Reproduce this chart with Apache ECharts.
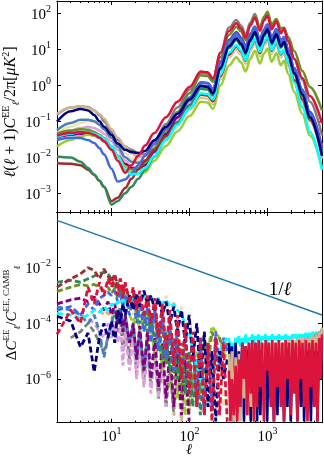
<!DOCTYPE html>
<html>
<head>
<meta charset="utf-8">
<title>EE spectra</title>
<style>
    html, body { margin: 0; padding: 0; background: #fff; }
    #chart { width: 324px; height: 458px; }
</style>
<script src="https://cdn.jsdelivr.net/npm/echarts@6/dist/echarts.min.js"></script>
</head>
<body>
<div id="chart"></div>
<script>
var serif = 'Liberation Serif, DejaVu Serif, serif';

// multipoles of the spectra (top panel)
var ell = [2, 3, 4, 5, 6, 7, 8, 10, 12, 15, 18, 22, 27, 35, 50, 70, 100, 140, 170, 200, 250, 320, 400, 460, 525, 600, 690, 800, 900, 1000, 1130, 1300, 1480, 1630, 1840, 2200, 2800, 3500, 5000];

// l(l+1)C_l^EE/2pi per model
var clGray = [0.15, 0.24, 0.26, 0.25, 0.2, 0.15, 0.1, 0.05, 0.03, 0.02, 0.016, 0.013, 0.012, 0.027, 0.084, 0.24, 0.75, 2.2, 2.1, 1.4, 8, 40, 65, 45, 25, 55, 95, 40, 70, 95, 40, 65, 30, 38, 17, 5.5, 1.4, 0.35, 0.04];
var clTan = [0.16, 0.24, 0.26, 0.24, 0.2, 0.16, 0.12, 0.06, 0.035, 0.02, 0.013, 0.01, 0.011, 0.02, 0.044, 0.094, 0.21, 0.45, 0.43, 0.3, 1.5, 6, 10, 7, 4, 9, 15, 6.5, 12.5, 18, 7.5, 13, 6, 8, 3.5, 1.2, 0.35, 0.1, 0.012];
var clWheat = [0.047, 0.07, 0.09, 0.1, 0.095, 0.08, 0.065, 0.04, 0.025, 0.013, 0.009, 0.008, 0.0085, 0.016, 0.039, 0.089, 0.215, 0.5, 0.47, 0.33, 1.6, 6.5, 11, 7.7, 4.4, 10, 16.5, 7, 14, 20, 8, 14, 6.5, 9, 4, 1.3, 0.4, 0.12, 0.02];
var clPlum = [0.04, 0.055, 0.065, 0.07, 0.065, 0.055, 0.045, 0.028, 0.016, 0.008, 0.0055, 0.005, 0.006, 0.013, 0.038, 0.105, 0.31, 0.85, 0.8, 0.56, 3.3, 13, 22, 15, 9, 20, 33, 14, 27, 40, 16, 28, 13, 17, 7.5, 2.3, 0.55, 0.12, 0.009];
var clSteel = [0.057, 0.09, 0.11, 0.11, 0.1, 0.08, 0.06, 0.035, 0.02, 0.01, 0.0075, 0.007, 0.008, 0.017, 0.048, 0.13, 0.37, 1.0, 0.95, 0.65, 3.5, 14, 24, 17, 10, 21, 36, 16, 30, 43, 18, 31, 14, 19, 8.5, 2.6, 0.65, 0.15, 0.014];
var clPurple = [0.035, 0.042, 0.045, 0.045, 0.04, 0.035, 0.028, 0.018, 0.011, 0.0065, 0.005, 0.0048, 0.006, 0.014, 0.0435, 0.128, 0.405, 1.2, 1.15, 0.78, 4.5, 18, 30, 21, 12, 26, 42, 18, 35, 50, 21, 36, 17, 22, 10, 3, 0.75, 0.18, 0.018];
var clOlive = [0.045, 0.055, 0.06, 0.058, 0.05, 0.042, 0.034, 0.02, 0.011, 0.0055, 0.0045, 0.005, 0.007, 0.017, 0.057, 0.18, 0.6, 1.9, 1.8, 1.25, 6, 25, 42, 31, 18, 45, 80, 38, 80, 110, 50, 70, 38, 40, 22, 9, 2.5, 0.9, 0.2];
var clYellow = [0.02, 0.03, 0.038, 0.042, 0.04, 0.035, 0.028, 0.017, 0.01, 0.0055, 0.004, 0.0036, 0.0038, 0.0078, 0.0206, 0.052, 0.139, 0.35, 0.33, 0.22, 1, 3.5, 6, 4.2, 2.4, 5.4, 9, 4, 7.5, 10.5, 4.5, 7.8, 3.6, 4.8, 2.1, 0.65, 0.16, 0.04, 0.005];
var clBrown = [0.0068, 0.0066, 0.006, 0.0045, 0.0032, 0.0022, 0.0015, 0.0006, 0.00075, 0.0014, 0.0025, 0.0045, 0.008, 0.0156, 0.039, 0.092, 0.23, 0.55, 0.52, 0.36, 1.8, 7, 12, 8.4, 4.8, 11, 18, 7.8, 15, 21.5, 9, 15.5, 7.2, 9.6, 4.2, 1.4, 0.4, 0.11, 0.013];
var clGreen = [0.0105, 0.0098, 0.0075, 0.005, 0.0033, 0.0022, 0.0015, 0.00048, 0.0006, 0.001, 0.0015, 0.0025, 0.0045, 0.0102, 0.031, 0.09, 0.28, 0.8, 0.76, 0.52, 2.7, 11, 18, 12.5, 7.2, 16, 27, 11.7, 22.5, 32, 13.5, 23, 11, 14.5, 6.3, 2, 0.5, 0.12, 0.012];
var clRoyal = [0.03, 0.035, 0.034, 0.03, 0.025, 0.018, 0.012, 0.0048, 0.0021, 0.0024, 0.0035, 0.006, 0.011, 0.023, 0.063, 0.166, 0.46, 1.2, 1.15, 0.8, 4.2, 17, 28, 20, 11, 25, 42, 18, 35, 50, 21, 36, 17, 22, 9.8, 3, 0.75, 0.17, 0.016];
var clCyan = [0.037, 0.045, 0.05, 0.05, 0.045, 0.04, 0.033, 0.02, 0.011, 0.0045, 0.0033, 0.0035, 0.005, 0.0107, 0.03, 0.08, 0.225, 0.6, 0.57, 0.4, 2, 8, 13, 9, 5, 11.5, 19.5, 8.5, 16, 23, 9.5, 16.5, 7.5, 10, 4.2, 1.2, 0.25, 0.05, 0.0045];
var clNavy = [0.098, 0.19, 0.22, 0.2, 0.15, 0.1, 0.07, 0.042, 0.024, 0.016, 0.014, 0.013, 0.015, 0.029, 0.07, 0.16, 0.4, 0.95, 0.9, 0.6, 3, 12, 20, 14, 8, 18, 30, 13, 25, 36, 15, 26, 12, 16, 7, 2.2, 0.55, 0.13, 0.011];
var clCrimson = [0.04, 0.048, 0.05, 0.048, 0.042, 0.035, 0.028, 0.016, 0.008, 0.0037, 0.006, 0.011, 0.021, 0.046, 0.13, 0.35, 0.9, 2.4, 2.3, 1.55, 8, 32, 53, 37, 21, 46, 75, 33, 62, 85, 36, 60, 28, 37, 17, 5.5, 1.6, 0.5, 0.088];

// multipoles of the relative differences (bottom panel)
var ellLow = [2, 3, 4, 5, 6, 7, 8, 9, 10, 11, 12, 13, 14, 15, 17, 19, 21, 23, 26, 29, 32, 36, 40, 45, 50, 56, 63, 70, 79, 88, 99, 110, 124, 138, 155, 173, 194, 217, 243, 272, 305];
var ellHigh = [320, 335, 350, 370, 390, 410, 430, 450, 475, 500, 525, 550, 580, 610, 640, 670, 700, 735, 770, 810, 850, 900, 945, 990, 1040, 1100, 1150, 1210, 1270, 1340, 1400, 1480, 1550, 1630, 1710, 1800, 1890, 1990, 2090, 2200, 2300, 2420, 2550, 2680, 2810, 2950, 3100, 3260, 3420, 3600, 3780, 3970, 4170, 4380, 4600, 4830, 5000];

// |dC/C| per model
var dTan = [null, null, null, null, null, 3e-4, 2e-4, 2.5e-4, 1.5e-4, 3e-4, 1e-4, 2e-4, 5e-5, 1e-4, 1e-5, 5e-5, 3e-6, 2e-5, 8e-7, 1e-5, 5e-7, 8e-6, 3e-7, 5e-6, 1e-7, 3e-6, 5e-8, 1e-6, 3e-8, 1e-6, 5e-8, 3e-6, 1e-7, 5e-6, 3e-7, 1e-5, 1e-6, 2e-5, 3e-6, 3e-5, 1e-5];
var dTanHigh = [8e-6, 5e-8, 1e-5, 3e-8, 6e-6, 1e-7, 8e-6, 3e-8, 5e-6, 2e-7, 5e-6, 5e-8, 3e-6, 1e-7, 5e-6, 3e-8, 1e-5, 1e-6, 2e-5, 5e-6, 2e-5, 3e-6, 2e-5, 5e-6, 2e-5, 5e-6, 2.5e-5, 5e-6, 2e-5, 5e-6, 2.5e-5, 5e-6, 2e-5, 5e-6, 2.5e-5, 8e-6, 2.5e-5, 5e-6, 3e-5, 8e-6, 2.5e-5, 5e-6, 3e-5, 1e-5, 3e-5, 5e-6, 3e-5, 1e-5, 3e-5, 1e-5, 4e-5, 1e-5, 4e-5, 1e-5, 5e-5, 2e-5, 7e-5];
var dWheat = [null, null, null, null, null, null, null, null, 3e-4, 2e-4, 4e-4, 2e-4, 5e-4, 3e-4, 4e-4, 2e-4, 6e-4, 3e-4, 8e-4, 4e-4, 1e-3, 5e-4, 8e-4, 3e-4, 1e-3, 2e-4, 6e-4, 1e-4, 4e-4, 5e-5, 2e-4, 2e-5, 1e-4, 5e-6, 5e-5, 1e-6, 1e-5, 3e-7, 5e-6, 1e-7, 1e-6];
var dGray = [null, 3e-5, 5e-5, 1e-4, 5e-5, 2e-5, 1e-5, 3e-5, 1e-4, 2e-4, 5e-5, 1.5e-4, 1e-5, 1e-4, 5e-6, 5e-5, 1.5e-6, 3e-5, 1e-6, 2e-5, 5e-7, 1e-5, 2e-7, 5e-6, 1e-7, 3e-6, 5e-8, null, null, null, null, null, null, null, null, null, null, null, null, null, null];
var dPlum = [null, null, 2e-4, 1.5e-4, 1e-4, 5e-5, 3e-5, 1e-4, 3e-5, 1e-4, 2e-5, 8e-5, 3e-6, 5e-5, 2e-6, 3e-5, 1e-6, 2e-5, 5e-7, 1e-5, 3e-7, 8e-6, 2e-7, 5e-6, 1e-7, null, null, null, null, null, null, null, null, null, null, null, null, null, null, null, null];
var dSteel = [4e-4, 3e-4, 2e-4, 1e-4, 2e-4, 5e-5, 6e-6, 3e-5, 1e-4, 3e-4, 1e-4, 4e-4, 5e-5, 2e-4, 2e-5, 1e-4, 5e-6, 6e-5, 2e-6, 4e-5, 1e-6, 3e-5, null, null, null, null, null, null, null, null, null, null, null, null, null, null, null, null, null, null, null];
var dYellow = [null, null, null, null, null, null, null, null, null, null, null, null, null, null, 2e-4, 1e-4, 3e-4, 5e-5, 2e-4, 2e-5, 1e-4, 5e-6, 6e-5, 2e-6, 3e-5, 5e-7, 2e-5, 2e-7, 1e-5, 5e-8, 5e-6, 3e-7, 1e-5, 3e-6, 3e-5, 1e-5, 8e-5, 5e-5, 3e-5, 1e-5, 5e-6];
var dOlive = [1.4e-3, 2e-3, 2.5e-3, 2.2e-3, 2.5e-3, 2e-3, 1.5e-3, 2e-3, 1.2e-3, 1.8e-3, 8e-4, 1.5e-3, 5e-4, 1e-3, 3e-4, 8e-4, 2e-4, 6e-4, 1e-4, 3e-4, 5e-5, 2e-4, 1e-5, 1e-4, 3e-6, 6e-5, 1e-6, 3e-5, 3e-7, 2e-5, 1e-7, 1e-6, 5e-6, 3e-7, 2e-5, 3e-6, 5e-5, 2e-5, 3e-5, 1e-5, 2e-5];
var dPurple = [5e-4, 7e-4, 8e-4, 6e-4, 9e-4, 5e-4, 3e-4, 6e-4, 2e-4, 5e-4, 1e-4, 3e-4, 5e-5, 2e-4, 2e-5, 1e-4, 5e-6, 8e-5, 2e-6, 5e-5, 1e-6, 3e-5, 5e-7, 2e-5, 2e-7, 1e-5, 1e-7, 8e-6, 5e-8, 5e-6, 3e-8, null, null, null, null, null, null, null, null, null, null];
var dGreen = [3e-3, 3.5e-3, 3e-3, 4e-3, 5e-3, 6e-3, 7e-3, 6e-3, 4e-3, 2e-3, 3e-3, 1e-3, 2e-3, 6e-4, 1e-3, 3e-4, 6e-4, 1e-4, 3e-4, 5e-5, 2e-4, 2e-5, 1e-4, 5e-6, 5e-5, 2e-6, 3e-5, 1e-6, 2e-5, 3e-7, 1e-5, 1e-7, 5e-6, 5e-8, 3e-6, null, null, null, null, null, null];
var dBrown = [2e-3, 4e-3, 6e-3, 1e-2, 8e-3, 4e-3, 9e-3, 5e-3, 3e-3, 6e-3, 2e-3, 4e-3, 1.5e-3, 2.5e-3, 7e-4, 1.2e-3, 3e-4, 8e-4, 2e-4, 5e-4, 1e-4, 3e-4, 3e-5, 1e-4, 1e-5, 5e-5, 3e-6, 2e-5, 1e-6, null, null, null, null, null, null, null, null, null, null, null, null];
var dRoyal = [3e-4, 4e-4, 2e-4, 5e-4, 3e-4, 8e-4, 1e-3, 1.3e-3, 1e-3, 1.5e-3, 6e-4, 1.2e-3, 4e-4, 1e-3, 2e-4, 8e-4, 1e-4, 6e-4, 5e-5, 4e-4, 2e-5, 3e-4, 1e-5, 2e-4, 5e-6, 1e-4, 2e-6, 8e-5, 1e-6, 5e-5, 3e-7, 3e-5, 1e-7, 3e-5, 5e-8, 2e-5, 1e-7, 5e-5, 3e-6, 3e-5, 1e-5];
var dCyan = [2.3e-4, 2e-4, 1.5e-4, 2e-4, 3e-4, 2.5e-4, 4e-4, 3e-4, 5e-4, 4e-4, 6e-4, 5e-4, 7e-4, 6e-4, 8e-4, 7e-4, 9e-4, 8e-4, 1e-3, 7e-4, 9e-4, 6e-4, 8e-4, 5e-4, 7e-4, 4e-4, 5e-4, 3e-4, 2e-4, 1e-4, 5e-5, 1e-5, 3e-6, 1e-6, 3e-7, 1e-7, 1e-6, 5e-6, 1e-5, 2e-5, 3e-5];
var dCyanHigh = [3e-5, 5e-6, 2e-5, 1e-5, 3e-5, 2e-5, 3.5e-5, 1.5e-5, 3e-5, 2e-5, 4e-5, 2e-5, 3e-5, 2.5e-5, 4e-5, 2e-5, 3.5e-5, 2.5e-5, 4e-5, 2e-5, 3.5e-5, 2.5e-5, 4e-5, 2e-5, 3.5e-5, 2.5e-5, 4e-5, 2.5e-5, 3.5e-5, 2.5e-5, 4e-5, 2.5e-5, 3.5e-5, 2.5e-5, 4e-5, 2.5e-5, 3.5e-5, 2.5e-5, 4e-5, 3e-5, 4e-5, 2.5e-5, 4e-5, 3e-5, 4e-5, 3e-5, 4.5e-5, 3e-5, 4.5e-5, 3e-5, 5e-5, 3e-5, 5e-5, 3.5e-5, 5e-5, 4e-5, 6e-5];
var dNavy = [1.8e-4, 1.2e-4, 1.4e-5, 4.5e-5, 1.8e-6, 3.3e-5, 1e-4, 3e-5, 1.2e-4, 2e-5, 3e-4, 1e-4, 5e-4, 2e-4, 1e-3, 3e-4, 1.2e-3, 4e-4, 1.5e-3, 5e-4, 1e-3, 3e-4, 8e-4, 2e-4, 6e-4, 1e-4, 4e-4, 5e-5, 3e-4, 2e-5, 2e-4, 5e-6, 1e-4, 1e-6, 5e-5, 1e-7, 1e-5, 3e-8, 1e-5, 1e-6, 5e-6];
var dNavyHigh = [2e-5, 1e-6, 1.5e-5, 3e-8, 2e-5, 5e-7, 1e-5, 1e-7, 2e-5, 3e-8, 1.5e-5, 1e-6, 2e-5, 3e-8, 1e-5, 2e-7, 2e-5, 3e-8, 1.5e-5, 5e-8, 2e-5, 1e-6, 1.5e-5, 3e-8, 2e-5, 2e-7, 1.5e-5, 3e-8, 2e-5, 5e-8, 1.5e-5, 1e-6, 2e-5, 3e-8, 2e-5, 1e-7, 2e-5, 3e-8, 2e-5, 5e-7, 2e-5, 3e-8, 2.5e-5, 1e-7, 2.5e-5, 3e-8, 3e-5, 5e-7, 3e-5, 3e-8, 3e-5, 1e-7, 4e-5, 3e-8, 5e-5, 1e-6, 6e-5];
var dCrimson = [4e-5, 3e-4, 1e-4, 2e-3, 5e-4, 3e-3, 1e-3, 4e-3, 2e-3, 5e-3, 1e-3, 4e-3, 8e-4, 3e-3, 5e-4, 2e-3, 3e-4, 1.5e-3, 2e-4, 1e-3, 1e-4, 8e-4, 3e-5, 5e-4, 1e-5, 3e-4, 3e-6, 2e-4, 1e-6, 1e-4, 3e-7, 5e-5, 1e-7, 3e-5, 5e-8, 2e-5, 3e-8, 3e-5, 5e-8, 2e-5, 3e-8];
var dCrimsonHigh = [2e-6, 3e-8, 1e-6, 5e-8, 3e-6, 3e-8, 5e-6, 1e-7, 2e-5, 1e-6, 1.5e-5, 5e-8, 2e-5, 3e-7, 2.5e-5, 3e-8, 2e-5, 1e-7, 2.5e-5, 5e-7, 2e-5, 3e-8, 2.5e-5, 2e-6, 2e-5, 1e-7, 2.5e-5, 3e-8, 2e-5, 5e-7, 2.5e-5, 1e-7, 2e-5, 3e-8, 2.5e-5, 1e-6, 2e-5, 5e-8, 2.5e-5, 3e-7, 2e-5, 3e-8, 2.5e-5, 1e-6, 2e-5, 1e-7, 2.5e-5, 3e-8, 2e-5, 5e-7, 2.5e-5, 1e-7, 2e-5, 3e-8, 3e-5, 1e-6, 4e-5];

// the 1/l reference line
var refEll = [2, 5000];
var refVal = [0.5, 0.0002];

// tick positions
var xTicks = [10, 100, 1000];
var xMinorTicks = [3, 4, 5, 6, 7, 8, 9, 20, 30, 40, 50, 60, 70, 80, 90, 200, 300, 400, 500, 600, 700, 800, 900, 2000, 3000, 4000];
var topYTicks = [1e-3, 1e-2, 1e-1, 1, 10, 100];
var botYTicks = [1e-6, 1e-4, 1e-2];

var myChart;

window.onresize = function () {
    myChart.resize();
};

// zip two arrays into [x, y] points
function pairs(xs, ys) {
    var arr = [];
    for (var i = 0; i < xs.length; i++) {
        arr.push([xs[i], ys[i] == null ? null : ys[i]]);
    }
    return arr;
}

// 10^n tick label
function powLabel(v) {
    var e = Math.round(Math.log(v) / Math.LN10);
    var s = e < 0 ? '\u2212' + (-e) : '' + e;
    return '{b|10}{s|' + s + '}';
}

var labelRich = {
    b: { fontFamily: serif, fontSize: 15, color: '#000', lineHeight: 18, verticalAlign: 'bottom' },
    s: { fontFamily: serif, fontSize: 10, color: '#000', lineHeight: 10, verticalAlign: 'top' }
};

function xAxisOf(grid, pos, minor, labels) {
    return {
        type: 'log', logBase: 10, gridIndex: grid, position: pos, min: 2, max: 5000,
        axisLine: { show: true, onZero: false, lineStyle: { color: '#000', width: 1 } },
        axisTick: { show: true, inside: true, length: minor ? 2 : 4, customValues: minor ? xMinorTicks : xTicks, lineStyle: { color: '#000', width: 1 } },
        axisLabel: { show: !!labels, customValues: xTicks, formatter: powLabel, rich: labelRich, margin: 4 },
        splitLine: { show: false },
        minorTick: { show: false }
    };
}

function yAxisOf(grid, pos, min, max, ticks, labels) {
    return {
        type: 'log', logBase: 10, gridIndex: grid, position: pos, min: min, max: max,
        axisLine: { show: true, onZero: false, lineStyle: { color: '#000', width: 1 } },
        axisTick: { show: true, inside: true, length: 4, customValues: ticks, lineStyle: { color: '#000', width: 1 } },
        axisLabel: { show: !!labels, customValues: ticks, formatter: powLabel, rich: labelRich, margin: 6 },
        splitLine: { show: false }
    };
}

function topLine(color, vals) {
    return {
        type: 'line', xAxisIndex: 0, yAxisIndex: 0, data: pairs(ell, vals),
        showSymbol: false, symbol: 'none', smooth: 0.35, smoothMonotone: 'x',
        lineStyle: { color: color, width: 2.5 }, silent: true
    };
}

// dashed difference curve; the dense high-l parts blend into a block
function diffLine(color, xs, vals, dense) {
    return {
        type: 'line', xAxisIndex: 4, yAxisIndex: 2, data: pairs(xs, vals),
        showSymbol: false, symbol: 'none', connectNulls: false,
        lineStyle: { color: color, width: dense ? 2.6 : 2.8, type: dense ? 'solid' : [6, 3], cap: 'butt' }, silent: true
    };
}

window.onload = function () {
    myChart = echarts.init(document.getElementById('chart'));

    var series = [
        topLine('#808080', clGray),
        topLine('#d2b48c', clTan),
        topLine('#f5deb3', clWheat),
        topLine('#dda0dd', clPlum),
        topLine('#4682b4', clSteel),
        topLine('#800080', clPurple),
        topLine('#6b8e23', clOlive),
        topLine('#9acd32', clYellow),
        topLine('#a52a2a', clBrown),
        topLine('#2e8b57', clGreen),
        topLine('#4169e1', clRoyal),
        topLine('#00ffff', clCyan),
        topLine('#000080', clNavy),
        topLine('#dc143c', clCrimson),

        diffLine('#d2b48c', ellLow, dTan),
        diffLine('#f5deb3', ellLow, dWheat),
        diffLine('#808080', ellLow, dGray),
        diffLine('#dda0dd', ellLow, dPlum),
        diffLine('#4682b4', ellLow, dSteel),
        diffLine('#9acd32', ellLow, dYellow),
        diffLine('#6b8e23', ellLow, dOlive),
        diffLine('#800080', ellLow, dPurple),
        diffLine('#2e8b57', ellLow, dGreen),
        diffLine('#a52a2a', ellLow, dBrown),
        diffLine('#4169e1', ellLow, dRoyal),
        diffLine('#00ffff', ellLow, dCyan),
        diffLine('#00ffff', ellHigh, dCyanHigh, true),
        diffLine('#000080', ellLow, dNavy),
        diffLine('#000080', ellHigh, dNavyHigh, true),
        diffLine('#d2b48c', ellHigh, dTanHigh, true),
        diffLine('#dc143c', ellLow, dCrimson),
        diffLine('#dc143c', ellHigh, dCrimsonHigh, true),

        {
            type: 'line', xAxisIndex: 4, yAxisIndex: 2, data: pairs(refEll, refVal),
            showSymbol: false, symbol: 'none', silent: true,
            lineStyle: { color: '#1f77b4', width: 1.5 }
        }
    ];

    var option = {
        animation: false,
        backgroundColor: '#fff',
        grid: [
            { left: 57, right: 2, top: 1, height: 211, containLabel: false },
            { left: 57, right: 2, top: 212, height: 210.7, containLabel: false }
        ],
        xAxis: [
            xAxisOf(0, 'bottom', false, false),
            xAxisOf(0, 'top', false, false),
            xAxisOf(0, 'bottom', true, false),
            xAxisOf(0, 'top', true, false),
            xAxisOf(1, 'bottom', false, true),
            xAxisOf(1, 'top', false, false),
            xAxisOf(1, 'bottom', true, false),
            xAxisOf(1, 'top', true, false)
        ],
        yAxis: [
            yAxisOf(0, 'left', 3e-4, 220, topYTicks, true),
            yAxisOf(0, 'right', 3e-4, 220, topYTicks, false),
            yAxisOf(1, 'left', 2.7e-8, 1, botYTicks, true),
            yAxisOf(1, 'right', 2.7e-8, 1, botYTicks, false)
        ],
        graphic: [
            {
                type: 'text', x: 11, y: 112, rotation: Math.PI / 2, silent: true,
                style: {
                    text: '{i|\u2113}{r|(}{i|\u2113}{r| + 1)}{i|C}{sp|EE}{sb|\u2113}{r|/2\u03c0[}{i|\u03bcK}{sp|2}{r|]}',
                    align: 'center', verticalAlign: 'middle',
                    rich: {
                        r: { fontFamily: serif, fontSize: 16, lineHeight: 20, verticalAlign: 'middle', fill: '#000' },
                        i: { fontFamily: serif, fontSize: 16, fontStyle: 'italic', lineHeight: 20, verticalAlign: 'middle', fill: '#000' },
                        sp: { fontFamily: serif, fontSize: 10, lineHeight: 10, verticalAlign: 'top', fill: '#000' },
                        sb: { fontFamily: serif, fontSize: 10, fontStyle: 'italic', lineHeight: 10, verticalAlign: 'bottom', fill: '#000' }
                    }
                }
            },
            {
                type: 'text', x: 12, y: 313, rotation: Math.PI / 2, silent: true,
                style: {
                    text: '{r|\u0394}{i|C}{sp|EE}{sb|\u2113}{r|/}{i|C}{sp|EE, CAMB}{sb|\u2113}',
                    align: 'center', verticalAlign: 'middle',
                    rich: {
                        r: { fontFamily: serif, fontSize: 15, lineHeight: 20, verticalAlign: 'middle', fill: '#000' },
                        i: { fontFamily: serif, fontSize: 15, fontStyle: 'italic', lineHeight: 20, verticalAlign: 'middle', fill: '#000' },
                        sp: { fontFamily: serif, fontSize: 9, lineHeight: 10, verticalAlign: 'top', fill: '#000' },
                        sb: { fontFamily: serif, fontSize: 9, fontStyle: 'italic', lineHeight: 10, verticalAlign: 'bottom', fill: '#000' }
                    }
                }
            },
            {
                type: 'text', x: 280, y: 290, silent: true,
                style: {
                    text: '{r|1/}{i|\u2113}', align: 'center', verticalAlign: 'middle',
                    rich: {
                        r: { fontFamily: serif, fontSize: 19, fill: '#000' },
                        i: { fontFamily: serif, fontSize: 19, fontStyle: 'italic', fill: '#000' }
                    }
                }
            },
            {
                type: 'text', x: 189, y: 450, silent: true,
                style: { text: '\u2113', fontFamily: serif, fontSize: 15, fontStyle: 'italic', fill: '#000', align: 'center', verticalAlign: 'middle' }
            }
        ],
        series: series
    };

    myChart.setOption(option);
};
</script>
</body>
</html>
